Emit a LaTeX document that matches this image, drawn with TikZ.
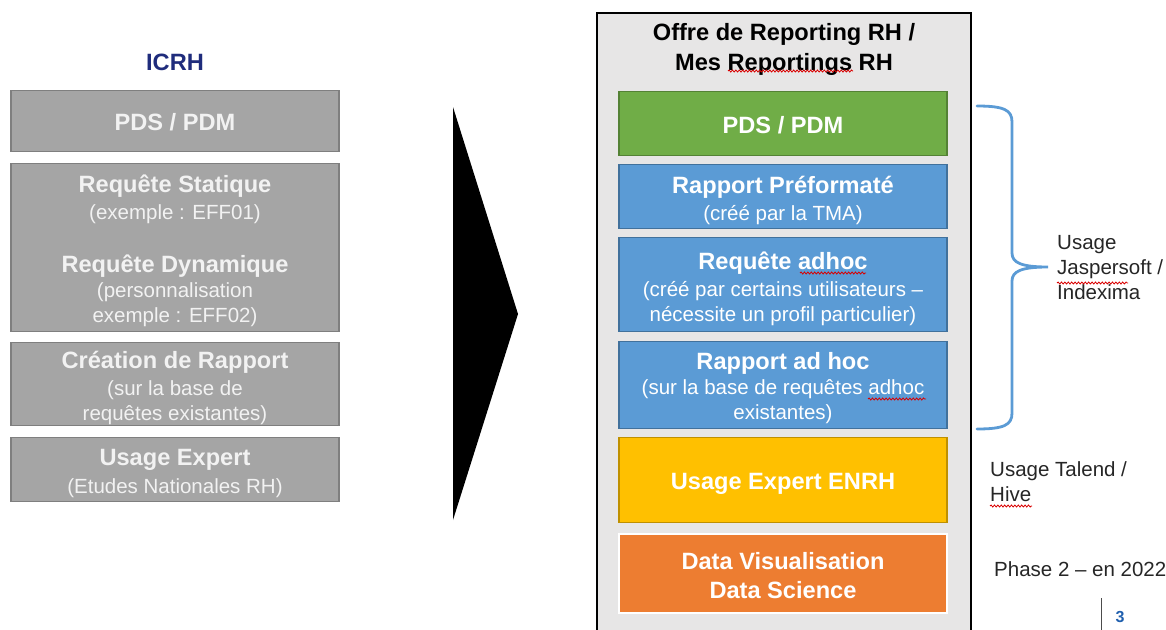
\documentclass[tikz,border=0pt]{standalone}
\usepackage{fontspec}
\setmainfont{Liberation Sans}
\usetikzlibrary{decorations.pathmorphing}

\definecolor{navy}{HTML}{1F2C7C}
\definecolor{boxgray}{HTML}{A5A5A5}
\definecolor{boxgrayline}{HTML}{7F7F7F}
\definecolor{panel}{HTML}{E7E6E6}
\definecolor{pgreen}{HTML}{70AD47}
\definecolor{pgreenline}{HTML}{548235}
\definecolor{pblue}{HTML}{5B9BD5}
\definecolor{pblueline}{HTML}{41719C}
\definecolor{pyellow}{HTML}{FFC000}
\definecolor{pyellowline}{HTML}{BF9000}
\definecolor{porange}{HTML}{ED7D31}
\definecolor{note}{HTML}{262626}
\definecolor{pagenum}{HTML}{1F5FAE}

\newcommand\subfont{\fontsize{20.5}{25}\selectfont}
\newcommand\headfont{\fontsize{23.6}{25}\selectfont\bfseries}

\tikzset{
  card/.style={draw, line width=1.5pt, minimum width=328, minimum height=#1, inner sep=0pt},
  cardtext/.style={align=center, text=white, font=\subfont, inner sep=0pt, yshift=-3.5pt},
  graycard/.style={card=#1, fill=boxgray, draw=boxgrayline},
  greencard/.style={card=#1, fill=pgreen, draw=pgreenline},
  bluecard/.style={card=#1, fill=pblue, draw=pblueline},
  yellowcard/.style={card=#1, fill=pyellow, draw=pyellowline},
  orangecard/.style={card=#1, fill=porange, draw=white, line width=2.5pt},
  sidenote/.style={text=note, font=\subfont, align=left, inner sep=0pt},
  spell/.style={draw=red!85!black, line width=0.8pt, decorate,
    decoration={snake, segment length=3.4pt, amplitude=1pt}},
}

\begin{document}
\begin{tikzpicture}[x=1pt, y=-1pt]
\useasboundingbox (0,0) rectangle (1166,629);

% ---- left column: ICRH ----
\node[text=navy, font=\headfont] (icrh) at (175,62) {ICRH};

\node[graycard=61] (l1) at (175,121) {};
\node[cardtext, yshift=2.5pt, text={white!95!black}] (l1t) at (l1.center) {{\headfont PDS / PDM}};

\node[graycard=168] (l2) at (175,247.5) {};
\node[cardtext, text={white!95!black}] (l2t) at (l2.center)
  {{\headfont Requête Statique}\\[2pt](exemple : EFF01)\\[28pt]
   {\headfont Requête Dynamique}\\[0pt](personnalisation\\exemple : EFF02)};

\node[graycard=83] (l3) at (175,384) {};
\node[cardtext, text={white!95!black}] (l3t) at (l3.center)
  {{\headfont Création de Rapport}\\[2pt](sur la base de\\requêtes existantes)};

\node[graycard=64] (l4) at (175,469.5) {};
\node[cardtext, text={white!95!black}] (l4t) at (l4.center)
  {{\headfont Usage Expert}\\[3pt](Etudes Nationales RH)};

% ---- big arrow ----
\fill[black] (453,107) -- (518,314) -- (453,520) -- cycle;

% ---- right column: offer panel ----
\node[draw=black, line width=2pt, fill=panel, minimum width=374, minimum height=640,
      inner sep=0pt, anchor=north] (panel) at (783.5,12) {};
\node[font=\headfont, align=center, text=black] (title) at (784,49.5)
  {Offre de Reporting RH /\\[5.5pt]Mes Reportings RH};

\node[greencard=64] (r1) at (783,123.5) {};
\node[cardtext, yshift=2pt] (r1t) at (r1.center) {{\headfont PDS / PDM}};

\node[bluecard=64] (r2) at (783,196.5) {};
\node[cardtext] (r2t) at (r2.center)
  {{\headfont Rapport Préformaté}\\[2pt](créé par la TMA)};

\node[bluecard=94] (r3) at (783,284.5) {};
\node[cardtext, yshift=-1pt] (r3t) at (r3.center)
  {{\headfont Requête adhoc}\\[2pt](créé par certains utilisateurs –\\nécessite un profil particulier)};

\node[bluecard=87] (r4) at (783,385) {};
\node[cardtext] (r4t) at (r4.center)
  {{\headfont Rapport ad hoc}\\[0pt](sur la base de requêtes adhoc\\existantes)};

\node[yellowcard=85] (r5) at (783,480) {};
\node[cardtext] (r5t) at (r5.center) {{\headfont Usage Expert ENRH}};

\node[orangecard=79] (r6) at (783,573.5) {};
\node[cardtext, yshift=1.5pt] (r6t) at (r6.center)
  {{\headfont Data Visualisation}\\[4pt]{\headfont Data Science}};

% spell-check marks
\draw[spell] (728,71) -- (853,71);
\draw[spell] (800,273) -- (866,273);
\draw[spell] (868,399) -- (926,399);

% ---- brace and side notes ----
\coordinate (btop) at (977,106);
\coordinate (bbot) at (977,429);
\coordinate (btip) at (1048,267);
\draw[pblue, line width=2.8pt, line cap=round]
  (btop) .. controls (1004,106) and (1012,110) .. (1012,122)
  -- (1012,253) .. controls (1012,263) and (1022,267) .. (btip)
  .. controls (1022,267) and (1012,271) .. (1012,281)
  -- (1012,413) .. controls (1012,425) and (1004,429) .. (bbot);

\node[sidenote, anchor=west] (jasper) at (1057,268) {Usage\\Jaspersoft /\\Indexima};
\node[sidenote, anchor=west] (talend) at (990,481.5) {Usage Talend /\\Hive};
\node[sidenote, anchor=west] (phase) at (994,569) {Phase 2 – en 2022};
\draw[spell] (1057,283) -- (1128,283);
\draw[spell] (990,506) -- (1032,506);

% ---- page number ----
\draw[black!70, line width=1pt] (1101,598) -- (1101,632);
\node[text=pagenum, font=\fontsize{16}{18}\selectfont\bfseries] (pnum) at (1120,617) {3};
\end{tikzpicture}
\end{document}
